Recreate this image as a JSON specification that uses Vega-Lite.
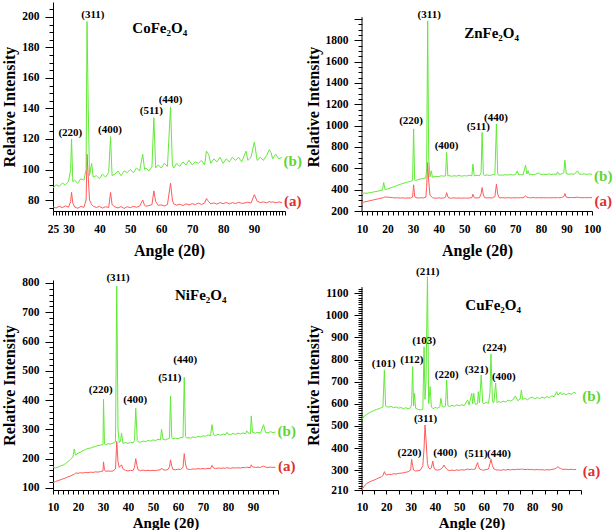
{
"$schema": "https://vega.github.io/schema/vega-lite/v6.json",
"background": "white",
"padding": {"left": 1, "top": 2, "right": 0, "bottom": 0},
"bounds": "flush",
"columns": 2,
"spacing": {"row": 69, "column": 77},
"config": {
 "view": {"stroke": null},
 "axis": {"grid": false, "domainColor": "#000", "tickColor": "#000", "labelColor": "#000", "titleColor": "#000", "labelFont": "Liberation Serif", "labelFontWeight": "bold", "labelFontSize": 11.5, "titleFont": "Liberation Serif", "titleFontWeight": "bold", "titleFontSize": 16, "labelOverlap": false, "labelFlush": false, "format": "d"},
 "style": {"guide-label": {"font": "Liberation Serif", "fontWeight": "bold"}, "guide-title": {"font": "Liberation Serif", "fontWeight": "bold"}},
 "text": {"font": "Liberation Serif", "fontWeight": "bold"}
},
"datasets": {
 "co": [
  {"x":25,"a":75.5,"b":88},{"x":26,"a":74.8,"b":90},{"x":27,"a":75.9,"b":89},{"x":28,"a":75.0,"b":91},{"x":29,"a":76.2,"b":90},{"x":30,"a":75.3,"b":92},{"x":30.7,"a":79,"b":100},{"x":31,"a":85,"b":120},{"x":31.4,"a":78,"b":92},{"x":32,"a":75.4,"b":93},{"x":33,"a":74.6,"b":91},{"x":34,"a":75.8,"b":94},{"x":35,"a":75.2,"b":93},{"x":35.7,"a":80,"b":100},{"x":36,"a":110,"b":197},{"x":36.4,"a":95,"b":140},{"x":36.8,"a":80,"b":96},{"x":37.5,"a":77,"b":104},{"x":38,"a":76,"b":95},{"x":39,"a":75.1,"b":96},{"x":40,"a":75.8,"b":94},{"x":41,"a":74.7,"b":97},{"x":42,"a":75.6,"b":95},{"x":43,"a":75.1,"b":98},{"x":43.6,"a":85,"b":121.5},{"x":44.1,"a":77,"b":96},{"x":45,"a":75.5,"b":97},{"x":46,"a":74.8,"b":99},{"x":47,"a":75.7,"b":96},{"x":48,"a":74.5,"b":99},{"x":49,"a":75.6,"b":98},{"x":50,"a":75.0,"b":100},{"x":51,"a":75.9,"b":98},{"x":52,"a":75.2,"b":101},{"x":53,"a":76.0,"b":99},{"x":54,"a":80,"b":110},{"x":54.6,"a":76.5,"b":100},{"x":55,"a":76.0,"b":101},{"x":56,"a":76.3,"b":99},{"x":57,"a":77,"b":102},{"x":57.6,"a":86,"b":134},{"x":58.2,"a":79,"b":101},{"x":59,"a":76.5,"b":103},{"x":60,"a":76.8,"b":101},{"x":61,"a":76.1,"b":104},{"x":62,"a":77.0,"b":102},{"x":63,"a":91,"b":141},{"x":63.6,"a":80,"b":103},{"x":64,"a":77.5,"b":101},{"x":65,"a":76.6,"b":104},{"x":66,"a":77.3,"b":102},{"x":67,"a":76.4,"b":105},{"x":68,"a":77.5,"b":103},{"x":69,"a":76.8,"b":106},{"x":70,"a":77.6,"b":103},{"x":71,"a":77.0,"b":105},{"x":72,"a":78.0,"b":104},{"x":73,"a":77.1,"b":106},{"x":74,"a":78,"b":103},{"x":74.6,"a":81,"b":112},{"x":75.3,"a":79,"b":110},{"x":76,"a":77.5,"b":104},{"x":77,"a":78.1,"b":107},{"x":78,"a":77.3,"b":105},{"x":79,"a":78.3,"b":108},{"x":80,"a":77.6,"b":104},{"x":81,"a":78.4,"b":107},{"x":82,"a":77.5,"b":105},{"x":83,"a":78.3,"b":108},{"x":84,"a":77.7,"b":106},{"x":85,"a":78.5,"b":108},{"x":86,"a":77.8,"b":105},{"x":87.4,"a":78.2,"b":112},{"x":88,"a":78.6,"b":106},{"x":89,"a":78.0,"b":108},{"x":90.1,"a":83.5,"b":118},{"x":91,"a":79.2,"b":106},{"x":92,"a":78.3,"b":108},{"x":93,"a":78.8,"b":106},{"x":94,"a":78.1,"b":109},{"x":94.9,"a":79,"b":113},{"x":95.5,"a":78.5,"b":111},{"x":96,"a":78.8,"b":107},{"x":97,"a":78.2,"b":110},{"x":98,"a":78.7,"b":107},{"x":99,"a":78.3,"b":108}
 ],
 "zn": [
  {"x":10,"a":280,"b":362},{"x":11,"a":285,"b":368},{"x":12,"a":290,"b":366},{"x":13,"a":296,"b":372},{"x":14,"a":301,"b":375},{"x":15,"a":307,"b":381},{"x":16,"a":312,"b":384},{"x":17,"a":318,"b":391},{"x":18,"a":323,"b":395},{"x":18.5,"a":326,"b":467},{"x":19,"a":332,"b":400},{"x":20,"a":330,"b":406},{"x":21,"a":327,"b":415},{"x":22,"a":325,"b":423},{"x":23,"a":322,"b":431},{"x":24,"a":324,"b":442},{"x":25,"a":321,"b":450},{"x":26,"a":323,"b":458},{"x":27,"a":320,"b":465},{"x":28,"a":322,"b":472},{"x":29,"a":321,"b":478},{"x":29.8,"a":330,"b":486},{"x":30.2,"a":445,"b":969},{"x":30.6,"a":340,"b":490},{"x":31,"a":325,"b":485},{"x":32,"a":322,"b":495},{"x":33,"a":324,"b":500},{"x":34,"a":322,"b":505},{"x":35,"a":330,"b":510},{"x":35.3,"a":420,"b":600},{"x":35.7,"a":655,"b":1982},{"x":36.1,"a":480,"b":700},{"x":36.6,"a":350,"b":520},{"x":37.1,"a":335,"b":576},{"x":37.6,"a":325,"b":515},{"x":38,"a":322,"b":520},{"x":39,"a":320,"b":525},{"x":40,"a":323,"b":522},{"x":41,"a":320,"b":530},{"x":42,"a":322,"b":526},{"x":42.7,"a":330,"b":530},{"x":43.1,"a":372,"b":749},{"x":43.6,"a":335,"b":528},{"x":44,"a":322,"b":532},{"x":45,"a":320,"b":525},{"x":46,"a":323,"b":530},{"x":47,"a":320,"b":527},{"x":48,"a":322,"b":533},{"x":49,"a":320,"b":526},{"x":50,"a":322,"b":531},{"x":51,"a":320,"b":528},{"x":52,"a":322,"b":534},{"x":53,"a":325,"b":530},{"x":53.4,"a":357,"b":639},{"x":53.9,"a":325,"b":530},{"x":55,"a":322,"b":535},{"x":56,"a":325,"b":530},{"x":56.6,"a":360,"b":560},{"x":57,"a":420,"b":937},{"x":57.5,"a":350,"b":540},{"x":58,"a":325,"b":533},{"x":59,"a":322,"b":538},{"x":60,"a":324,"b":532},{"x":61,"a":322,"b":540},{"x":62,"a":335,"b":540},{"x":62.6,"a":451,"b":1016},{"x":63.1,"a":360,"b":545},{"x":63.6,"a":328,"b":535},{"x":64,"a":323,"b":538},{"x":65,"a":325,"b":535},{"x":66,"a":322,"b":540},{"x":67,"a":325,"b":536},{"x":68,"a":322,"b":542},{"x":69,"a":324,"b":537},{"x":70,"a":322,"b":541},{"x":70.8,"a":325,"b":576},{"x":71.3,"a":323,"b":538},{"x":72,"a":325,"b":542},{"x":73,"a":323,"b":538},{"x":74,"a":341,"b":630},{"x":74.5,"a":330,"b":548},{"x":75,"a":326,"b":578},{"x":75.5,"a":325,"b":540},{"x":76,"a":324,"b":544},{"x":77,"a":326,"b":540},{"x":78,"a":323,"b":545},{"x":79,"a":325,"b":556},{"x":80,"a":323,"b":541},{"x":81,"a":325,"b":546},{"x":82,"a":323,"b":541},{"x":83,"a":325,"b":547},{"x":84,"a":323,"b":542},{"x":85,"a":325,"b":546},{"x":86,"a":324,"b":542},{"x":86.5,"a":326,"b":566},{"x":87,"a":324,"b":544},{"x":88,"a":326,"b":546},{"x":89,"a":335,"b":560},{"x":89.4,"a":363,"b":677},{"x":89.9,"a":330,"b":550},{"x":91,"a":325,"b":544},{"x":92,"a":327,"b":548},{"x":93,"a":324,"b":543},{"x":94.3,"a":330,"b":576},{"x":95,"a":326,"b":548},{"x":96,"a":324,"b":543},{"x":97,"a":326,"b":548},{"x":98,"a":324,"b":543},{"x":99,"a":326,"b":547},{"x":100,"a":325,"b":544}
 ],
 "ni": [
  {"x":10,"a":119,"b":172},{"x":11,"a":122,"b":168},{"x":12,"a":125,"b":171},{"x":13,"a":128,"b":175},{"x":14,"a":131,"b":178},{"x":15,"a":134,"b":183},{"x":16,"a":138,"b":190},{"x":17,"a":141,"b":198},{"x":18,"a":145,"b":206},{"x":18.5,"a":147,"b":233},{"x":19,"a":151,"b":212},{"x":20,"a":150,"b":219},{"x":21,"a":152,"b":222},{"x":22,"a":151,"b":228},{"x":23,"a":153,"b":231},{"x":24,"a":152,"b":235},{"x":25,"a":154,"b":236},{"x":26,"a":153,"b":240},{"x":27,"a":155,"b":241},{"x":28,"a":154,"b":245},{"x":29,"a":156,"b":246},{"x":30,"a":158,"b":248},{"x":30.2,"a":189,"b":403},{"x":30.6,"a":162,"b":250},{"x":31,"a":157,"b":247},{"x":32,"a":158,"b":251},{"x":33,"a":157,"b":250},{"x":34,"a":158,"b":253},{"x":35,"a":165,"b":258},{"x":35.5,"a":259,"b":789},{"x":36,"a":190,"b":300},{"x":36.5,"a":170,"b":255},{"x":37,"a":175,"b":260},{"x":37.4,"a":179,"b":287},{"x":38,"a":165,"b":252},{"x":39,"a":160,"b":255},{"x":40,"a":158,"b":252},{"x":41,"a":160,"b":256},{"x":42,"a":159,"b":254},{"x":42.6,"a":170,"b":262},{"x":43.1,"a":200,"b":372},{"x":43.7,"a":172,"b":262},{"x":44,"a":162,"b":258},{"x":45,"a":159,"b":256},{"x":46,"a":161,"b":260},{"x":47,"a":159,"b":258},{"x":48,"a":160,"b":262},{"x":49,"a":159,"b":260},{"x":50,"a":160,"b":264},{"x":51,"a":159,"b":262},{"x":52,"a":161,"b":266},{"x":53,"a":162,"b":264},{"x":53.4,"a":168,"b":301},{"x":54,"a":162,"b":266},{"x":55,"a":161,"b":264},{"x":56,"a":163,"b":268},{"x":56.6,"a":172,"b":270},{"x":57,"a":196,"b":414},{"x":57.5,"a":175,"b":272},{"x":58,"a":163,"b":268},{"x":59,"a":162,"b":270},{"x":60,"a":164,"b":268},{"x":61,"a":163,"b":272},{"x":62,"a":170,"b":272},{"x":62.5,"a":217,"b":478},{"x":63,"a":182,"b":275},{"x":63.5,"a":166,"b":270},{"x":64,"a":164,"b":272},{"x":65,"a":163,"b":270},{"x":66,"a":165,"b":274},{"x":67,"a":164,"b":272},{"x":68,"a":166,"b":276},{"x":69,"a":165,"b":274},{"x":70,"a":166,"b":278},{"x":71,"a":165,"b":276},{"x":72,"a":167,"b":281},{"x":73,"a":166,"b":278},{"x":73.6,"a":177,"b":316},{"x":74.2,"a":168,"b":282},{"x":75,"a":166,"b":279},{"x":76,"a":168,"b":283},{"x":77,"a":167,"b":280},{"x":78,"a":168,"b":284},{"x":79,"a":167,"b":282},{"x":79.5,"a":170,"b":290},{"x":80,"a":168,"b":284},{"x":81,"a":167,"b":282},{"x":82,"a":169,"b":286},{"x":83,"a":168,"b":283},{"x":84,"a":169,"b":287},{"x":85,"a":168,"b":284},{"x":86,"a":170,"b":288},{"x":87,"a":169,"b":285},{"x":87.5,"a":171,"b":295},{"x":88,"a":170,"b":288},{"x":89,"a":170,"b":286},{"x":89.3,"a":179,"b":346},{"x":89.8,"a":172,"b":290},{"x":91,"a":170,"b":287},{"x":92,"a":171,"b":290},{"x":93,"a":170,"b":287},{"x":94.2,"a":175,"b":316},{"x":95,"a":171,"b":290},{"x":96,"a":170,"b":288},{"x":97,"a":171,"b":292},{"x":98,"a":170,"b":289},{"x":99,"a":171,"b":291}
 ],
 "cu": [
  {"x":10,"a":213,"b":530},{"x":11,"a":228,"b":545},{"x":12,"a":240,"b":552},{"x":13,"a":246,"b":560},{"x":14,"a":251,"b":565},{"x":15,"a":255,"b":570},{"x":16,"a":260,"b":574},{"x":17,"a":265,"b":578},{"x":18,"a":270,"b":583},{"x":18.6,"a":275,"b":585},{"x":19.2,"a":293,"b":753},{"x":19.7,"a":280,"b":590},{"x":20,"a":278,"b":587},{"x":21,"a":281,"b":585},{"x":22,"a":280,"b":588},{"x":23,"a":284,"b":582},{"x":24,"a":282,"b":586},{"x":25,"a":285,"b":580},{"x":26,"a":286,"b":583},{"x":27,"a":288,"b":578},{"x":28,"a":290,"b":582},{"x":29,"a":293,"b":578},{"x":30,"a":300,"b":582},{"x":30.4,"a":349,"b":600},{"x":30.8,"a":320,"b":768},{"x":31.2,"a":300,"b":590},{"x":31.6,"a":298,"b":647},{"x":32,"a":296,"b":580},{"x":33,"a":297,"b":575},{"x":34,"a":300,"b":572},{"x":35,"a":320,"b":575},{"x":35.5,"a":400,"b":858},{"x":35.9,"a":504,"b":620},{"x":36.3,"a":440,"b":700},{"x":36.9,"a":330,"b":1175},{"x":37.4,"a":310,"b":600},{"x":38,"a":305,"b":678},{"x":38.5,"a":310,"b":585},{"x":39.1,"a":341,"b":580},{"x":39.6,"a":310,"b":578},{"x":40,"a":302,"b":584},{"x":41,"a":300,"b":580},{"x":42,"a":302,"b":586},{"x":42.4,"a":305,"b":625},{"x":43,"a":310,"b":588},{"x":43.7,"a":323,"b":585},{"x":44.3,"a":310,"b":590},{"x":44.8,"a":305,"b":708},{"x":45.3,"a":300,"b":592},{"x":46,"a":298,"b":588},{"x":47,"a":300,"b":593},{"x":48,"a":298,"b":589},{"x":49,"a":301,"b":595},{"x":50,"a":299,"b":591},{"x":51,"a":302,"b":596},{"x":52,"a":300,"b":592},{"x":53.4,"a":305,"b":617},{"x":54,"a":302,"b":595},{"x":55.1,"a":304,"b":647},{"x":55.5,"a":303,"b":600},{"x":55.9,"a":303,"b":647},{"x":56.5,"a":305,"b":598},{"x":57.5,"a":334,"b":600},{"x":57.8,"a":320,"b":655},{"x":58.3,"a":305,"b":605},{"x":59,"a":302,"b":730},{"x":59.6,"a":300,"b":605},{"x":60,"a":300,"b":600},{"x":61,"a":302,"b":606},{"x":62,"a":305,"b":602},{"x":62.6,"a":330,"b":650},{"x":63,"a":349,"b":825},{"x":63.6,"a":320,"b":610},{"x":64.2,"a":305,"b":605},{"x":64.9,"a":302,"b":693},{"x":65.5,"a":300,"b":605},{"x":66,"a":301,"b":610},{"x":67,"a":299,"b":606},{"x":68,"a":302,"b":612},{"x":69,"a":300,"b":608},{"x":70,"a":303,"b":617},{"x":71,"a":301,"b":612},{"x":72,"a":303,"b":618},{"x":73,"a":302,"b":635},{"x":74,"a":304,"b":614},{"x":75,"a":303,"b":622},{"x":75.5,"a":305,"b":662},{"x":76,"a":304,"b":620},{"x":77,"a":302,"b":624},{"x":78,"a":304,"b":618},{"x":79,"a":302,"b":626},{"x":80,"a":303,"b":630},{"x":81,"a":301,"b":622},{"x":82,"a":303,"b":628},{"x":83,"a":301,"b":624},{"x":84,"a":302,"b":630},{"x":85,"a":300,"b":626},{"x":86,"a":302,"b":632},{"x":87,"a":301,"b":628},{"x":88,"a":303,"b":636},{"x":89,"a":305,"b":632},{"x":90,"a":310,"b":655},{"x":90.5,"a":316,"b":640},{"x":91,"a":310,"b":644},{"x":91.5,"a":308,"b":652},{"x":92,"a":305,"b":642},{"x":93,"a":303,"b":646},{"x":94,"a":304,"b":641},{"x":95,"a":302,"b":648},{"x":96,"a":304,"b":643},{"x":97,"a":302,"b":652},{"x":98,"a":303,"b":647}
 ]
},
"concat": [
 {
  "width": 232, "height": 209,
  "encoding": {
   "x": {"field": "x", "type": "quantitative", "scale": {"domain": [25, 100], "nice": false, "zero": false},
    "axis": {"title": "Angle (2θ)", "labelFont": "Liberation Serif", "titleFont": "Liberation Serif", "titlePadding": 8, "values": [25,26,27,28,29,30,31,32,33,34,35,36,37,38,39,40,41,42,43,44,45,46,47,48,49,50,51,52,53,54,55,56,57,58,59,60,61,62,63,64,65,66,67,68,69,70,71,72,73,74,75,76,77,78,79,80,81,82,83,84,85,86,87,88,89,90,91,92,93,94,95,96,97,98,99,100], "labelExpr": "indexof([25,30,40,50,60,70,80,90], datum.value) >= 0 ? datum.label : ''", "tickSize": 4, "labelPadding": 8}},
   "y": {"field": "y", "type": "quantitative", "scale": {"domain": [72.8, 209.8], "nice": false, "zero": false},
    "axis": {"title": "Relative Intensity", "labelFont": "Liberation Serif", "titleFont": "Liberation Serif", "values": [75,80,85,90,95,100,105,110,115,120,125,130,135,140,145,150,155,160,165,170,175,180,185,190,195,200,205], "labelExpr": "datum.value % 20 === 0 ? datum.label : ''", "tickSize": {"condition": {"test": "datum.value % 20 === 0", "value": 8}, "value": 4}, "labelPadding": 6}}
  },
  "layer": [
   {"data": {"name": "co"}, "transform": [{"fold": ["a", "b"], "as": ["s", "y"]}], "mark": {"type": "line", "strokeWidth": 1, "clip": false},
    "encoding": {"color": {"field": "s", "type": "nominal", "scale": {"domain": ["a", "b"], "range": ["#ff5a5a", "#62ea38"]}, "legend": null}}},
   {"data": {"values": [{"x": 30.6, "y": 123.7, "t": "(220)"}, {"x": 37.9, "y": 201.3, "t": "(311)"}, {"x": 43.4, "y": 125.9, "t": "(400)"}, {"x": 56.8, "y": 138.4, "t": "(511)"}, {"x": 63.0, "y": 145.6, "t": "(440)"}]},
    "mark": {"type": "text", "fontSize": 11, "baseline": "middle", "color": "#000"}, "encoding": {"text": {"field": "t"}}},
   {"data": {"values": [{"x": 59.5, "y": 192.6, "t": "CoFe₂O₄"}]}, "mark": {"type": "text", "fontSize": 15, "baseline": "middle", "color": "#000"}, "encoding": {"text": {"field": "t"}}},
   {"data": {"values": [{"x": 102.5, "y": 105.8, "t": "(b)"}]}, "mark": {"type": "text", "fontSize": 15, "baseline": "middle", "color": "#5fd62a"}, "encoding": {"text": {"field": "t"}}},
   {"data": {"values": [{"x": 102.5, "y": 79.5, "t": "(a)"}]}, "mark": {"type": "text", "fontSize": 15, "baseline": "middle", "color": "#e03030"}, "encoding": {"text": {"field": "t"}}}
  ]
 },
 {
  "width": 230, "height": 209,
  "encoding": {
   "x": {"field": "x", "type": "quantitative", "scale": {"domain": [10, 100], "nice": false, "zero": false},
    "axis": {"title": "Angle (2θ)", "labelFont": "Liberation Serif", "titleFont": "Liberation Serif", "titlePadding": 8, "values": [10,12,14,16,18,20,22,24,26,28,30,32,34,36,38,40,42,44,46,48,50,52,54,56,58,60,62,64,66,68,70,72,74,76,78,80,82,84,86,88,90,92,94,96,98,100], "labelExpr": "datum.value % 10 === 0 ? datum.label : ''", "tickSize": 4, "labelPadding": 8}},
   "y": {"field": "y", "type": "quantitative", "scale": {"domain": [200, 2158], "nice": false, "zero": false},
    "axis": {"title": "Relative Intensity", "labelFont": "Liberation Serif", "titleFont": "Liberation Serif", "domain": false, "values": [200,250,300,350,400,450,500,550,600,650,700,750,800,850,900,950,1000,1050,1100,1150,1200,1250,1300,1350,1400,1450,1500,1550,1600,1650,1700,1750,1800,1850,1900,1950,2000], "labelExpr": "datum.value % 200 === 0 && datum.value < 2000 ? datum.label : ''", "tickSize": {"condition": {"test": "datum.value % 200 === 0", "value": 8}, "value": 4}, "labelPadding": 6}}
  },
  "layer": [
   {"data": {"values": [{"x": 10, "y": 200, "y2": 2016}]}, "mark": {"type": "rule", "color": "#000", "strokeWidth": 1}, "encoding": {"y2": {"field": "y2"}}},
   {"data": {"name": "zn"}, "transform": [{"fold": ["a", "b"], "as": ["s", "y"]}], "mark": {"type": "line", "strokeWidth": 1, "clip": false},
    "encoding": {"color": {"field": "s", "type": "nominal", "scale": {"domain": ["a", "b"], "range": ["#ff5a5a", "#62ea38"]}, "legend": null}}},
   {"data": {"values": [{"x": 29.2, "y": 1047, "t": "(220)"}, {"x": 36.3, "y": 2040, "t": "(311)"}, {"x": 43.1, "y": 812, "t": "(400)"}, {"x": 55.5, "y": 991, "t": "(511)"}, {"x": 62.4, "y": 1072, "t": "(440)"}]},
    "mark": {"type": "text", "fontSize": 11, "baseline": "middle", "color": "#000"}, "encoding": {"text": {"field": "t"}}},
   {"data": {"values": [{"x": 60.7, "y": 1863, "t": "ZnFe₂O₄"}]}, "mark": {"type": "text", "fontSize": 15, "baseline": "middle", "color": "#000"}, "encoding": {"text": {"field": "t"}}},
   {"data": {"values": [{"x": 104.4, "y": 529, "t": "(b)"}]}, "mark": {"type": "text", "fontSize": 15, "baseline": "middle", "color": "#5fd62a"}, "encoding": {"text": {"field": "t"}}},
   {"data": {"values": [{"x": 104.4, "y": 294, "t": "(a)"}]}, "mark": {"type": "text", "fontSize": 15, "baseline": "middle", "color": "#e03030"}, "encoding": {"text": {"field": "t"}}}
  ]
 },
 {
  "width": 225, "height": 210,
  "encoding": {
   "x": {"field": "x", "type": "quantitative", "scale": {"domain": [10, 100], "nice": false, "zero": false},
    "axis": {"title": "Angle (2θ)", "labelFont": "Liberation Serif", "titleFont": "Liberation Serif", "titlePadding": 3, "titleFontSize": 15, "values": [10,12,14,16,18,20,22,24,26,28,30,32,34,36,38,40,42,44,46,48,50,52,54,56,58,60,62,64,66,68,70,72,74,76,78,80,82,84,86,88,90,92,94,96,98,100], "labelExpr": "datum.value % 10 === 0 && datum.value < 100 ? datum.label : ''", "tickSize": 4, "labelPadding": 7}},
   "y": {"field": "y", "type": "quantitative", "scale": {"domain": [93, 810], "nice": false, "zero": false},
    "axis": {"title": "Relative Intensity", "labelFont": "Liberation Serif", "titleFont": "Liberation Serif", "values": [100,120,140,160,180,200,220,240,260,280,300,320,340,360,380,400,420,440,460,480,500,520,540,560,580,600,620,640,660,680,700,720,740,760,780,800], "labelExpr": "datum.value % 100 === 0 ? datum.label : ''", "tickSize": {"condition": {"test": "datum.value % 100 === 0", "value": 8}, "value": 4}, "labelPadding": 6}}
  },
  "layer": [
   {"data": {"name": "ni"}, "transform": [{"fold": ["a", "b"], "as": ["s", "y"]}], "mark": {"type": "line", "strokeWidth": 1, "clip": false},
    "encoding": {"color": {"field": "s", "type": "nominal", "scale": {"domain": ["a", "b"], "range": ["#ff5a5a", "#62ea38"]}, "legend": null}}},
   {"data": {"values": [{"x": 29.1, "y": 435, "t": "(220)"}, {"x": 36.0, "y": 818, "t": "(311)"}, {"x": 42.9, "y": 401, "t": "(400)"}, {"x": 56.7, "y": 477, "t": "(511)"}, {"x": 62.9, "y": 537, "t": "(440)"}]},
    "mark": {"type": "text", "fontSize": 11, "baseline": "middle", "color": "#000"}, "encoding": {"text": {"field": "t"}}},
   {"data": {"values": [{"x": 69.1, "y": 758, "t": "NiFe₂O₄"}]}, "mark": {"type": "text", "fontSize": 15, "baseline": "middle", "color": "#000"}, "encoding": {"text": {"field": "t"}}},
   {"data": {"values": [{"x": 103.5, "y": 293, "t": "(b)"}]}, "mark": {"type": "text", "fontSize": 15, "baseline": "middle", "color": "#5fd62a"}, "encoding": {"text": {"field": "t"}}},
   {"data": {"values": [{"x": 103.5, "y": 174, "t": "(a)"}]}, "mark": {"type": "text", "fontSize": 15, "baseline": "middle", "color": "#e03030"}, "encoding": {"text": {"field": "t"}}}
  ]
 },
 {
  "width": 219, "height": 210,
  "encoding": {
   "x": {"field": "x", "type": "quantitative", "scale": {"domain": [10, 100], "nice": false, "zero": false},
    "axis": {"title": "Angle (2θ)", "labelFont": "Liberation Serif", "titleFont": "Liberation Serif", "titlePadding": 3, "titleFontSize": 15, "values": [10,15,20,25,30,35,40,45,50,55,60,65,70,75,80,85,90,95,100], "labelExpr": "datum.value % 10 === 0 && datum.value < 100 ? datum.label : ''", "tickSize": 4, "labelPadding": 7}},
   "y": {"field": "y", "type": "quantitative", "scale": {"domain": [210, 1160], "nice": false, "zero": false},
    "axis": {"title": "Relative Intensity", "labelFont": "Liberation Serif", "titleFont": "Liberation Serif", "domain": false, "values": [210,220,230,240,250,260,270,280,290,300,310,320,330,340,350,360,370,380,390,400,410,420,430,440,450,460,470,480,490,500,510,520,530,540,550,560,570,580,590,600,610,620,630,640,650,660,670,680,690,700,710,720,730,740,750,760,770,780,790,800,810,820,830,840,850,860,870,880,890,900,910,920,930,940,950,960,970,980,990,1000,1010,1020,1030,1040,1050,1060,1070,1080,1090,1100,1110,1120], "labelExpr": "datum.value === 210 || datum.value % 100 === 0 ? datum.label : ''", "tickSize": {"condition": {"test": "datum.value === 210 || datum.value % 100 === 0", "value": 8}, "value": 4}, "labelPadding": 6}}
  },
  "layer": [
   {"data": {"values": [{"x": 10, "y": 210, "y2": 1128}]}, "mark": {"type": "rule", "color": "#000", "strokeWidth": 1}, "encoding": {"y2": {"field": "y2"}}},
   {"data": {"name": "cu"}, "transform": [{"fold": ["a", "b"], "as": ["s", "y"]}], "mark": {"type": "line", "strokeWidth": 1, "clip": false},
    "encoding": {"color": {"field": "s", "type": "nominal", "scale": {"domain": ["a", "b"], "range": ["#ff5a5a", "#62ea38"]}, "legend": null}}},
   {"data": {"values": [{"x": 18.9, "y": 780, "t": "(101)"}, {"x": 30.5, "y": 798, "t": "(112)"}, {"x": 35.5, "y": 886, "t": "(103)"}, {"x": 37.0, "y": 1198, "t": "(211)"}, {"x": 44.8, "y": 730, "t": "(220)"}, {"x": 57.1, "y": 753, "t": "(321)"}, {"x": 64.4, "y": 851, "t": "(224)"}, {"x": 68.3, "y": 720, "t": "(400)"}, {"x": 36.1, "y": 530, "t": "(311)"}, {"x": 29.5, "y": 379, "t": "(220)"}, {"x": 44.2, "y": 376, "t": "(400)"}, {"x": 56.9, "y": 373, "t": "(511)"}, {"x": 66.3, "y": 373, "t": "(440)"}]},
    "mark": {"type": "text", "fontSize": 11, "baseline": "middle", "color": "#000"}, "encoding": {"text": {"field": "t"}}},
   {"data": {"values": [{"x": 63.9, "y": 1047, "t": "CuFe₂O₄"}]}, "mark": {"type": "text", "fontSize": 15, "baseline": "middle", "color": "#000"}, "encoding": {"text": {"field": "t"}}},
   {"data": {"values": [{"x": 104.3, "y": 635, "t": "(b)"}]}, "mark": {"type": "text", "fontSize": 15, "baseline": "middle", "color": "#5fd62a"}, "encoding": {"text": {"field": "t"}}},
   {"data": {"values": [{"x": 104.3, "y": 296, "t": "(a)"}]}, "mark": {"type": "text", "fontSize": 15, "baseline": "middle", "color": "#e03030"}, "encoding": {"text": {"field": "t"}}}
  ]
 }
]
}
